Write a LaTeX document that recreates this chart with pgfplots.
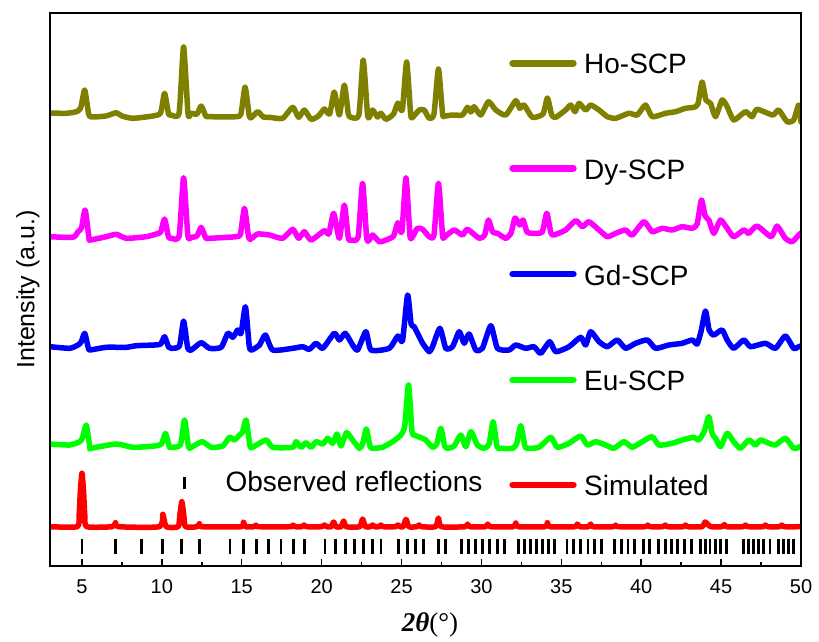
\documentclass[border=0pt]{standalone}
\usepackage{fontspec}
\setmainfont{Liberation Sans}
\newfontfamily\seriffont{Liberation Serif}
\usepackage{pgfplots}
\pgfplotsset{compat=1.18}
\definecolor{hoc}{RGB}{128,128,0}
\definecolor{dyc}{RGB}{255,0,255}
\definecolor{gdc}{RGB}{0,0,255}
\definecolor{euc}{RGB}{0,255,0}
\definecolor{simc}{RGB}{255,0,0}
\begin{document}
\begin{tikzpicture}
\begin{axis}[
  scale only axis, width=751pt, height=553pt,
  at={(0,0)}, anchor=south west,
  xmin=3, xmax=50, ymin=0, ymax=553,
  xtick={5,10,...,50}, minor x tick num=1,
  ytick=\empty, xtick pos=bottom, tick align=inside,
  major tick length=7pt, minor tick length=4pt,
  every tick/.style={line width=1.5pt, black},
  axis line style={line width=2pt},
  /pgf/number format/assume math mode=true,
  tick label style={font=\fontsize{20}{24}\selectfont},
  xticklabel style={yshift=-10pt},
  xlabel={{\seriffont\textbf{\textit{2θ}}(°)}},
  every axis x label/.style={at={(axis description cs:0.506,-0.107)}, anchor=center, font=\fontsize{27}{30}\selectfont},
  ylabel={Intensity (a.u.)},
  every axis y label/.style={at={(axis description cs:-0.0293,0.5)}, rotate=90, anchor=center, font=\fontsize{25}{30}\selectfont},
  axis on top,
  trace/.style={line width=5.5pt, line join=round, line cap=round, smooth, tension=0.35},
]
% Ho-SCP
\addplot[hoc, trace] coordinates {
(3.0,453) (4.02,452.7) (4.65,454.3) (4.92,458) (5.17,476) (5.42,452) (5.6,449) (6.5,450) (7.15,453.3) (7.5,450) (8.19,447.7) (9.44,450) (9.92,453) (10.17,472.7) (10.42,452) (10.59,451) (11.08,453) (11.36,519) (11.64,452) (11.84,452.7) (12.2,452) (12.46,460) (12.75,450) (12.98,449.3) (14.65,449.3) (14.95,452) (15.21,479) (15.47,450) (15.62,448.7) (16.0,454.3) (16.35,449) (16.73,448.7) (17.56,447.7) (18.19,458.7) (18.56,448.7) (18.92,456) (19.34,446.7) (19.8,450) (20.17,457) (20.5,452) (20.79,474) (21.11,451) (21.42,481) (21.67,452) (21.84,448.7) (22.33,451) (22.6,506) (22.87,452) (22.98,448.7) (23.19,456) (23.5,449) (23.71,452.7) (24.03,446.7) (24.5,452) (24.77,463) (25.05,456) (25.32,504) (25.57,452) (25.69,448.7) (26.11,456) (26.42,456) (26.73,447.7) (27.03,452) (27.31,497) (27.57,452) (27.7,450) (28.19,451) (28.81,451) (29.13,458.7) (29.34,454) (29.54,459.3) (29.96,451) (30.44,464.3) (30.9,456) (31.52,451) (32.15,465.3) (32.4,457.7) (32.67,461) (33.19,448.7) (33.85,452) (34.13,468) (34.4,451) (34.65,448.7) (35.27,456) (35.59,461) (35.86,454.3) (36.11,462.7) (36.52,456) (36.84,461) (37.36,456) (37.88,449.3) (38.4,447.7) (39.23,452.7) (39.75,451) (40.27,461) (40.69,449.3) (41.52,452.7) (42.15,454.3) (42.77,457.7) (43.29,458.7) (43.55,462) (43.81,484) (44.05,466) (44.34,462.7) (44.65,449.3) (45.06,466) (45.38,459.3) (45.79,446) (46.52,454.3) (46.94,449.3) (47.25,456.7) (48.23,451) (48.6,456) (49.13,444.3) (49.54,446) (49.86,461) (50,444)
};
% Dy-SCP
\addplot[dyc, trace] coordinates {
(3.0,329.3) (4.44,328.7) (4.75,334.3) (4.97,338) (5.2,356) (5.44,328) (5.52,326) (6.52,329.3) (7.15,331.7) (7.77,327.7) (9.02,329.3) (9.65,332) (9.93,334) (10.17,347) (10.42,329) (10.59,327.7) (11.08,330) (11.36,388.3) (11.63,330) (11.84,328.7) (12.2,330) (12.46,338.7) (12.75,328) (12.98,327.7) (14.65,329.3) (14.92,332) (15.17,357.7) (15.44,328) (15.62,327.7) (16.0,332) (16.73,331) (17.56,327.7) (18.19,336.7) (18.56,327.7) (18.92,334.3) (19.34,326) (20.17,335.3) (20.45,332) (20.75,352.7) (21.11,327.7) (21.42,361) (21.67,328) (21.84,326) (22.28,329) (22.56,382.7) (22.82,328) (22.98,326) (23.19,331) (23.61,324.3) (24.03,326) (24.5,330) (24.77,343.3) (25.02,334) (25.28,388.3) (25.53,330) (25.69,329.3) (25.99,337.7) (26.32,336.7) (26.73,329.3) (27.03,331) (27.31,382.7) (27.57,330) (27.7,329.3) (28.29,336) (28.81,331) (29.13,336.7) (29.86,327.7) (30.2,331) (30.44,346) (30.7,334) (31.0,332.7) (31.52,327.7) (31.85,333) (32.1,348) (32.4,341) (32.61,346) (32.85,334) (33.19,332.7) (33.8,334) (34.09,352.7) (34.35,333) (34.54,331) (35.27,336) (35.9,345.3) (36.32,339.3) (36.73,344.3) (37.36,336) (37.88,329.3) (38.4,332.7) (39.02,336) (39.44,331) (40.17,344.3) (40.69,334.3) (41.31,337.7) (41.94,336) (42.56,339.3) (43.19,337.7) (43.5,342) (43.77,366) (44.0,350) (44.23,346) (44.54,332.7) (44.96,346) (45.38,337.7) (45.79,329.3) (46.42,336) (46.73,332.7) (47.25,340) (48.13,329.3) (48.5,340) (49.02,327.7) (49.44,324.3) (49.86,331) (50,333)
};
% Gd-SCP
\addplot[gdc, trace] coordinates {
(3.0,219.3) (4.23,217.7) (4.75,221) (4.95,224) (5.17,232.7) (5.4,218) (5.5,216) (6.52,218.7) (7.77,218.7) (8.4,220.3) (9.54,221) (9.93,222) (10.17,229.3) (10.42,219) (10.59,217.7) (11.1,220) (11.36,245) (11.62,218) (11.84,216) (12.46,223.3) (12.98,217.7) (13.71,218.7) (14.13,232.7) (14.44,228.7) (14.75,236) (14.96,232.7) (15.23,259.3) (15.47,220) (15.62,216) (16.11,221) (16.48,231) (16.94,216) (18.19,217.7) (18.81,219.3) (19.23,216.7) (19.65,222.7) (20.07,217.7) (20.79,232.7) (21.11,226) (21.48,232.7) (21.94,221) (22.25,216) (22.77,234.3) (23.09,216) (24.23,217.7) (24.77,230) (25.06,225.3) (25.38,271) (25.6,242) (25.79,239.3) (26.11,229.3) (26.32,222.7) (26.73,214.3) (26.94,219.3) (27.4,237.7) (27.77,217.7) (28.19,219.3) (28.61,234.3) (28.92,222.7) (29.23,232) (29.65,216) (30.06,217.7) (30.59,240.3) (31.0,217.7) (31.73,216) (32.15,221) (32.77,217.7) (33.29,219.3) (33.71,212.7) (34.27,224.3) (34.65,214.3) (35.48,219.3) (36.21,228.7) (36.52,221) (36.84,234.3) (37.36,224.3) (37.88,219.3) (38.5,226) (39.02,217.7) (39.65,222.7) (40.38,226) (40.9,217.7) (41.73,221) (42.56,222.7) (43.19,226) (43.5,222) (43.75,235) (44.02,255) (44.25,236) (44.54,231) (45.06,236) (45.38,226) (45.79,217.7) (46.42,226) (46.84,219.3) (47.77,222.7) (48.4,217.7) (49.02,230) (49.54,217.7) (49.86,219.3) (50,220)
};
% Eu-SCP
\addplot[euc, trace] coordinates {
(3.0,122) (4.23,121) (4.86,124.3) (5.03,128) (5.27,141) (5.5,118) (5.55,117.7) (7.15,122) (8.19,118.7) (9.54,120) (9.98,122) (10.23,132.7) (10.47,119) (10.59,118.7) (11.16,121) (11.42,146) (11.67,119) (11.84,118.7) (12.52,124.3) (13.09,118.7) (13.81,120) (14.23,128.7) (14.54,126) (14.86,131) (15.05,134) (15.27,146) (15.52,120) (15.67,118.7) (16.52,126) (16.94,118.7) (18.19,118.7) (18.4,124.3) (18.71,118.7) (19.02,123.3) (19.34,118.7) (19.65,124.3) (20.07,122) (20.38,127.7) (20.69,122.7) (20.96,132) (21.21,120) (21.56,133.3) (21.94,126) (22.36,117.7) (22.56,122) (22.8,137) (23.02,120) (23.19,117.7) (23.81,118.7) (24.44,124.3) (24.96,131) (25.2,140) (25.44,181) (25.65,135) (25.79,131) (26.32,127.7) (26.52,126) (26.94,118.7) (27.2,122) (27.46,137.7) (27.7,120) (27.88,117.7) (28.29,120) (28.71,131) (29.02,119.3) (29.34,134.3) (29.75,121) (30.17,117.7) (30.48,122) (30.73,144.3) (30.97,120) (31.11,117.7) (31.94,117.7) (32.2,122) (32.46,140.3) (32.72,120) (32.88,117.7) (33.6,118.7) (34.34,128.7) (34.75,118.7) (35.48,122.7) (36.21,130) (36.63,121) (37.15,124.3) (37.77,121) (38.29,117.7) (38.92,124.3) (39.44,118.7) (40.06,124.3) (40.69,129.3) (41.11,121) (41.94,122.7) (42.56,126) (43.29,128.7) (43.6,126) (43.95,135) (44.23,149.3) (44.45,132) (44.65,127.7) (44.96,119.3) (45.38,132.7) (45.79,124.3) (46.21,117.7) (46.73,126) (47.15,121) (47.46,126) (48.0,122.7) (48.4,121) (49.02,127.7) (49.54,117.7) (49.86,118.7) (50,120)
};
% Simulated
\addplot[simc, trace] coordinates {
(3,39.3) (4.7,39.3) (4.82,50) (4.9,75) (5.0,92.7) (5.1,75) (5.18,50) (5.3,39.3) (6.9,39.3) (7.1,43.3) (7.3,39.3) (9.85,39.3) (10.06,51.7) (10.27,39.3) (11.02,39.3) (11.12,50) (11.25,64.3) (11.38,50) (11.48,39.3) (12.2,39.3) (12.35,42.3) (12.5,39.3) (14.95,39.3) (15.1,44) (15.25,39.3) (15.75,39.3) (15.9,41) (16.05,39.3) (18.05,39.3) (18.2,41) (18.35,39.3) (18.75,39.3) (18.9,41) (19.05,39.3) (20.0,39.3) (20.17,41) (20.33,39.3) (20.6,39.3) (20.75,44) (20.9,39.3) (21.22,39.3) (21.38,45) (21.54,39.3) (22.38,39.3) (22.56,47) (22.74,39.3) (23.05,39.3) (23.19,41) (23.33,39.3) (23.58,39.3) (23.71,41) (23.85,39.3) (24.62,39.3) (24.77,41) (24.92,39.3) (25.1,39.3) (25.28,46.7) (25.46,39.3) (25.95,39.3) (26.1,41) (26.25,39.3) (27.13,39.3) (27.31,48) (27.49,39.3) (28.98,39.3) (29.13,42) (29.28,39.3) (30.25,39.3) (30.4,42) (30.55,39.3) (32.0,39.3) (32.15,43) (32.3,39.3) (33.98,39.3) (34.13,43.3) (34.28,39.3) (35.85,39.3) (36.0,42) (36.15,39.3) (36.7,39.3) (36.84,42) (36.98,39.3) (38.25,39.3) (38.4,41) (38.55,39.3) (40.25,39.3) (40.4,41) (40.55,39.3) (41.35,39.3) (41.5,41) (41.65,39.3) (42.62,39.3) (42.77,41) (42.92,39.3) (43.8,39.3) (44.0,44) (44.2,41) (44.35,39.3) (45.05,39.3) (45.2,41.5) (45.35,39.3) (46.37,39.3) (46.52,41) (46.67,39.3) (47.62,39.3) (47.77,41) (47.92,39.3) (48.65,39.3) (48.8,41) (48.95,39.3) (50,39.3)
};
% observed reflections
\addplot[black, only marks, mark=|, mark size=7.5pt, mark options={line width=2.8pt}] coordinates {
(5.0,20) (7.11,20) (8.71,20) (10.06,20) (11.25,20) (12.36,20) (14.27,20) (15.11,20) (15.94,20) (16.69,20) (17.46,20) (18.23,20) (18.92,20) (20.21,20) (20.86,20) (21.48,20) (22.06,20) (22.61,20) (23.19,20) (23.71,20) (24.82,20) (25.38,20) (25.86,20) (26.38,20) (27.31,20) (27.77,20)
(28.75,20) (29.17,20) (29.61,20) (30.06,20) (30.52,20) (31.0,20) (31.42,20)
(32.33,20) (32.71,20) (33.08,20) (33.46,20) (33.83,20) (34.21,20) (34.58,20)
(35.35,20) (35.77,20) (36.19,20) (36.67,20) (37.08,20) (37.5,20)
(38.33,20) (38.75,20) (39.17,20) (39.58,20)
(40.15,20) (40.5,20)
(41.08,20) (41.5,20) (41.92,20) (42.29,20) (42.71,20) (43.13,20)
(43.69,20) (44.0,20) (44.31,20) (44.63,20) (44.94,20) (45.35,20)
(46.4,20) (46.71,20) (47.02,20) (47.33,20) (47.65,20) (48.06,20)
(48.58,20) (48.9,20) (49.21,20) (49.52,20)
};
% legend
\addplot[black, only marks, mark=|, mark size=6.3pt, mark options={line width=2.8pt}] coordinates {(11.42,83)};
\addplot[hoc, line width=6.5pt, line cap=round] coordinates {(31.95,502.7) (35.76,502.7)};
\addplot[dyc, line width=6.5pt, line cap=round] coordinates {(31.95,397.7) (35.76,397.7)};
\addplot[gdc, line width=6.5pt, line cap=round] coordinates {(31.95,292) (35.76,292)};
\addplot[euc, line width=6.5pt, line cap=round] coordinates {(31.95,186) (35.76,186)};
\addplot[simc, line width=6.5pt, line cap=round] coordinates {(31.95,81) (35.76,81)};
\begin{scope}[every node/.style={font=\fontsize{28}{32}\selectfont, inner sep=0pt, anchor=base west}]
\node at (axis cs:36.42,492.7) {Ho-SCP};
\node at (axis cs:36.42,386.7) {Dy-SCP};
\node at (axis cs:36.42,281) {Gd-SCP};
\node at (axis cs:36.42,175.3) {Eu-SCP};
\node at (axis cs:36.42,71) {Simulated};
\node at (axis cs:13.98,74.3) {Observed reflections};
\end{scope}
\end{axis}
\path (-50pt,-75pt) rectangle (769pt,566pt);
\end{tikzpicture}
\end{document}
